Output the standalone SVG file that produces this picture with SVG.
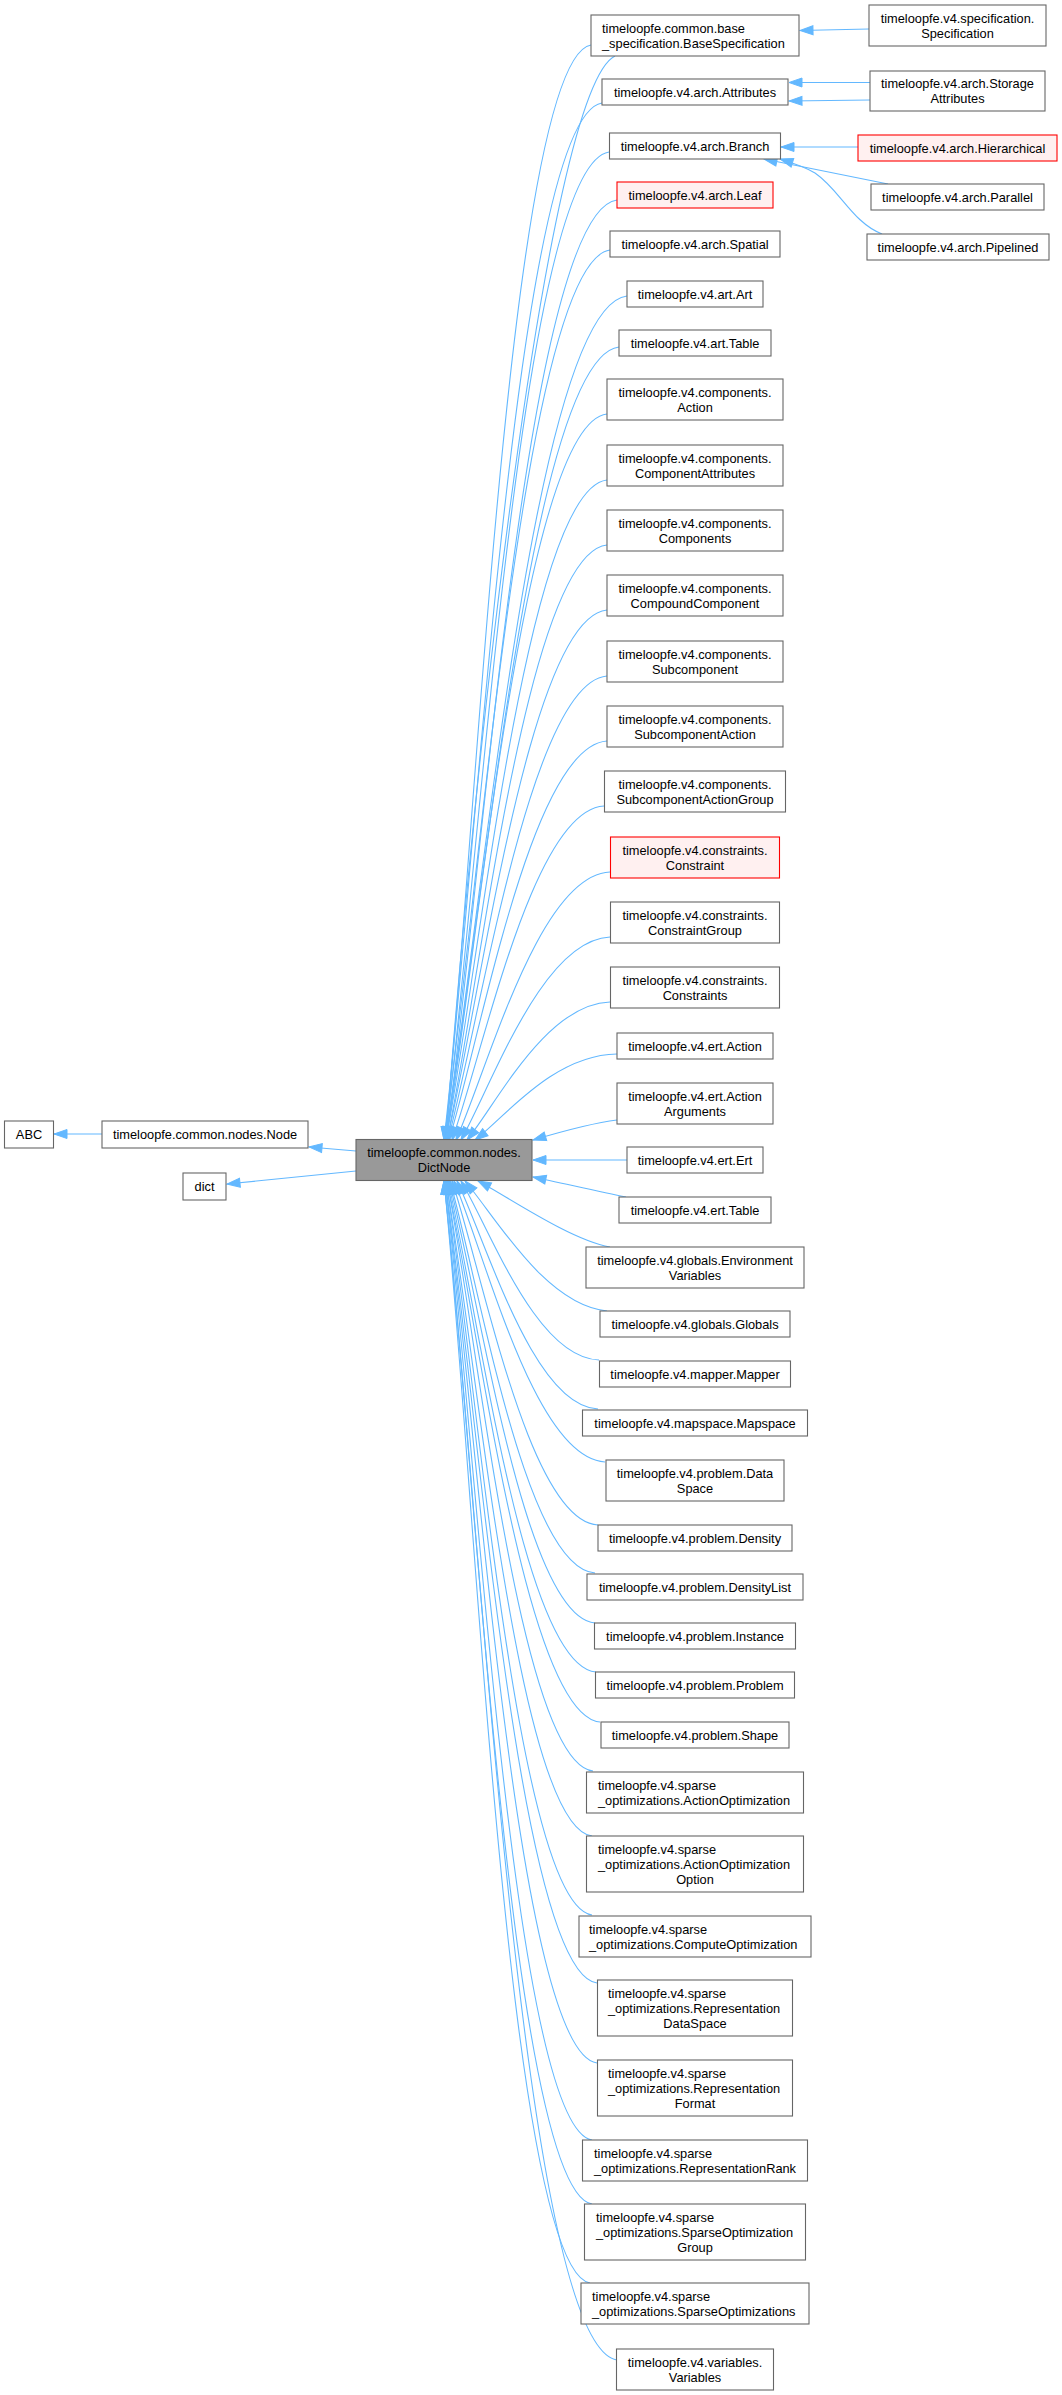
<svg xmlns="http://www.w3.org/2000/svg" width="1062" height="2395" viewBox="0 0 1062 2395">
<style>
rect{fill:#ffffff;stroke:#666666;stroke-width:1.1}
.r rect{fill:#fff0f0;stroke:#ff0000}
.d rect{fill:#999999;stroke:#666666}
text{font-family:"Liberation Sans",Arial,Helvetica,sans-serif;font-size:12.8px;fill:#000000;text-anchor:middle}
text.l{text-anchor:start}
#edges path{fill:none;stroke:#63b8ff;stroke-width:1.1;marker-end:url(#ah)}
</style>
<defs>
<marker id="ah" markerUnits="userSpaceOnUse" markerWidth="16" markerHeight="12" refX="13" refY="4.5" orient="auto" overflow="visible">
<path d="M0,0 L13,4.5 L0,9 z" fill="#63b8ff" stroke="#63b8ff" stroke-width="1"/>
</marker>
</defs>
<rect x="0" y="0" width="1062" height="2395" style="fill:#ffffff;stroke:none"/>
<g id="edges">
<path d="M102,1134 L54,1134"/>
<path d="M356,1151 L309,1147"/>
<path d="M356,1171 L227,1184"/>
<path d="M869,29 L800,30.5"/>
<path d="M870,82.5 L789,82.5"/>
<path d="M870,100 L789,101"/>
<path d="M858,147 L781,147"/>
<path d="M888,184 L764,159"/>
<path d="M882,234 C852,222 840,190 815,173 C805,167 793,163 780,159"/>
<path d="M591,45 C509,59 476,844 445,1140"/>
<path d="M615,56 C545,90 470,800 446,1140"/>
<path d="M602,103 C516,116 477,860 444,1140"/>
<path d="M609,152 C521,165 479,873 445,1140"/>
<path d="M617,200 C526,212 482,886 446,1140"/>
<path d="M610,250 C524,262 479,900 444,1140"/>
<path d="M627,296 C534,307 483,912 445,1140"/>
<path d="M619,347 C531,357 482,926 446,1140"/>
<path d="M607,414 C524,423 479,944 445,1140"/>
<path d="M607,480 C527,489 480,962 446,1140"/>
<path d="M607,545 C527,553 481,979 447,1140"/>
<path d="M607,610 C529,617 481,997 447,1140"/>
<path d="M607,676 C531,682 481,1015 448,1140"/>
<path d="M607,741 C532,746 482,1032 449,1140"/>
<path d="M604,806 C533,810 484,1050 452,1140"/>
<path d="M610,872 C539,875 488,1068 456,1140"/>
<path d="M610,937 C542,940 492,1085 461,1140"/>
<path d="M610,1002 C546,1004 497,1103 467,1140"/>
<path d="M617,1054 C553,1055 505,1117 475,1140"/>
<path d="M617,1120 C592,1123 560,1132 533,1140"/>
<path d="M627,1160 L533,1160"/>
<path d="M626,1197 C600,1192 562,1183 533,1177"/>
<path d="M610,1247 C570,1240 505,1195 478,1181"/>
<path d="M607,1311 C545,1305 495,1216 465,1181"/>
<path d="M599,1360 C536,1358 490,1229 461,1181"/>
<path d="M598,1409 C533,1406 487,1243 457,1181"/>
<path d="M605,1462 C535,1458 486,1257 454,1181"/>
<path d="M598,1525 C529,1521 483,1274 452,1181"/>
<path d="M595,1573 C525,1568 480,1287 450,1181"/>
<path d="M595,1623 C524,1617 480,1300 449,1181"/>
<path d="M596,1672 C523,1666 479,1314 448,1181"/>
<path d="M600,1722 C525,1715 479,1327 447,1181"/>
<path d="M593,1771 C520,1763 478,1340 447,1181"/>
<path d="M592,1836 C518,1827 477,1358 446,1181"/>
<path d="M592,1915 C517,1905 477,1379 446,1181"/>
<path d="M597,1983 C518,1973 477,1398 445,1181"/>
<path d="M597,2063 C516,2052 477,1419 445,1181"/>
<path d="M592,2140 C513,2128 476,1440 445,1181"/>
<path d="M592,2204 C511,2191 475,1457 444,1181"/>
<path d="M590,2283 C508,2269 475,1479 444,1181"/>
<path d="M617,2360 C520,2345 480,1500 444,1181"/>
</g>
<g id="n-abc"><rect x="4.5" y="1121" width="49" height="27"/><text x="29" y="1139">ABC</text></g>
<g id="n-node"><rect x="102" y="1121" width="206" height="27"/><text x="205" y="1139">timeloopfe.common.nodes.Node</text></g>
<g id="n-dict"><rect x="183" y="1173" width="43" height="27"/><text x="204.5" y="1191">dict</text></g>
<g id="n-dictnode" class="d"><rect x="356" y="1139.5" width="176" height="41"/><text x="444" y="1157">timeloopfe.common.nodes.</text><text x="444" y="1172">DictNode</text></g>
<g id="n-spec"><rect x="869" y="5" width="177" height="41"/><text x="957.5" y="22.5">timeloopfe.v4.specification.</text><text x="957.5" y="37.5">Specification</text></g>
<g id="n-storage"><rect x="870" y="71" width="175" height="40"/><text x="957.5" y="88">timeloopfe.v4.arch.Storage</text><text x="957.5" y="103">Attributes</text></g>
<g id="n-hier" class="r"><rect x="858" y="135" width="199" height="26"/><text x="957.5" y="152.5">timeloopfe.v4.arch.Hierarchical</text></g>
<g id="n-parallel"><rect x="871" y="184" width="173" height="26"/><text x="957.5" y="201.5">timeloopfe.v4.arch.Parallel</text></g>
<g id="n-pipelined"><rect x="867" y="234" width="182" height="26"/><text x="958" y="251.5">timeloopfe.v4.arch.Pipelined</text></g>
<g id="n-basespec"><rect x="591" y="15" width="208" height="41"/><text class="l" x="602" y="32.5">timeloopfe.common.base</text><text class="l" x="602" y="47.5">_specification.BaseSpecification</text></g>
<g id="n-attributes"><rect x="602" y="79" width="186" height="26"/><text x="695" y="96.5">timeloopfe.v4.arch.Attributes</text></g>
<g id="n-branch"><rect x="609.5" y="133" width="171" height="26"/><text x="695" y="150.5">timeloopfe.v4.arch.Branch</text></g>
<g id="n-leaf" class="r"><rect x="617" y="182" width="156" height="26"/><text x="695" y="199.5">timeloopfe.v4.arch.Leaf</text></g>
<g id="n-spatial"><rect x="610" y="231" width="170" height="26"/><text x="695" y="248.5">timeloopfe.v4.arch.Spatial</text></g>
<g id="n-art"><rect x="627" y="281" width="136" height="26"/><text x="695" y="298.5">timeloopfe.v4.art.Art</text></g>
<g id="n-arttable"><rect x="619" y="330" width="152" height="26"/><text x="695" y="347.5">timeloopfe.v4.art.Table</text></g>
<g id="n-action"><rect x="607" y="379" width="176" height="41"/><text x="695" y="396.5">timeloopfe.v4.components.</text><text x="695" y="411.5">Action</text></g>
<g id="n-compattr"><rect x="607" y="445" width="176" height="41"/><text x="695" y="462.5">timeloopfe.v4.components.</text><text x="695" y="477.5">ComponentAttributes</text></g>
<g id="n-components"><rect x="607" y="510" width="176" height="41"/><text x="695" y="527.5">timeloopfe.v4.components.</text><text x="695" y="542.5">Components</text></g>
<g id="n-compound"><rect x="607" y="575" width="176" height="41"/><text x="695" y="592.5">timeloopfe.v4.components.</text><text x="695" y="607.5">CompoundComponent</text></g>
<g id="n-subcomp"><rect x="607" y="641" width="176" height="41"/><text x="695" y="658.5">timeloopfe.v4.components.</text><text x="695" y="673.5">Subcomponent</text></g>
<g id="n-subcompaction"><rect x="607" y="706" width="176" height="41"/><text x="695" y="723.5">timeloopfe.v4.components.</text><text x="695" y="738.5">SubcomponentAction</text></g>
<g id="n-subcompactiongroup"><rect x="604.5" y="771" width="181" height="41"/><text x="695" y="788.5">timeloopfe.v4.components.</text><text x="695" y="803.5">SubcomponentActionGroup</text></g>
<g id="n-constraint" class="r"><rect x="610.5" y="837" width="169" height="41"/><text x="695" y="854.5">timeloopfe.v4.constraints.</text><text x="695" y="869.5">Constraint</text></g>
<g id="n-constraintgroup"><rect x="610.5" y="902" width="169" height="41"/><text x="695" y="919.5">timeloopfe.v4.constraints.</text><text x="695" y="934.5">ConstraintGroup</text></g>
<g id="n-constraints"><rect x="610.5" y="967" width="169" height="41"/><text x="695" y="984.5">timeloopfe.v4.constraints.</text><text x="695" y="999.5">Constraints</text></g>
<g id="n-ertaction"><rect x="617" y="1033" width="156" height="26"/><text x="695" y="1050.5">timeloopfe.v4.ert.Action</text></g>
<g id="n-ertactionargs"><rect x="617" y="1083" width="156" height="41"/><text x="695" y="1100.5">timeloopfe.v4.ert.Action</text><text x="695" y="1115.5">Arguments</text></g>
<g id="n-ertert"><rect x="627" y="1147" width="136" height="26"/><text x="695" y="1164.5">timeloopfe.v4.ert.Ert</text></g>
<g id="n-erttable"><rect x="619" y="1197" width="152" height="26"/><text x="695" y="1214.5">timeloopfe.v4.ert.Table</text></g>
<g id="n-envvars"><rect x="586" y="1247" width="218" height="41"/><text x="695" y="1264.5">timeloopfe.v4.globals.Environment</text><text x="695" y="1279.5">Variables</text></g>
<g id="n-globals"><rect x="600" y="1311" width="190" height="26"/><text x="695" y="1328.5">timeloopfe.v4.globals.Globals</text></g>
<g id="n-mapper"><rect x="599.5" y="1361" width="191" height="26"/><text x="695" y="1378.5">timeloopfe.v4.mapper.Mapper</text></g>
<g id="n-mapspace"><rect x="582.5" y="1410" width="225" height="26"/><text x="695" y="1427.5">timeloopfe.v4.mapspace.Mapspace</text></g>
<g id="n-dataspace"><rect x="606" y="1460" width="178" height="41"/><text x="695" y="1477.5">timeloopfe.v4.problem.Data</text><text x="695" y="1492.5">Space</text></g>
<g id="n-density"><rect x="598" y="1525" width="194" height="26"/><text x="695" y="1542.5">timeloopfe.v4.problem.Density</text></g>
<g id="n-densitylist"><rect x="587" y="1574" width="216" height="26"/><text x="695" y="1591.5">timeloopfe.v4.problem.DensityList</text></g>
<g id="n-instance"><rect x="594.5" y="1623" width="201" height="26"/><text x="695" y="1640.5">timeloopfe.v4.problem.Instance</text></g>
<g id="n-problem"><rect x="595.5" y="1672" width="199" height="26"/><text x="695" y="1689.5">timeloopfe.v4.problem.Problem</text></g>
<g id="n-shape"><rect x="601" y="1722" width="188" height="26"/><text x="695" y="1739.5">timeloopfe.v4.problem.Shape</text></g>
<g id="n-actionopt"><rect x="586.5" y="1772" width="217" height="41"/><text class="l" x="598" y="1789.5">timeloopfe.v4.sparse</text><text class="l" x="598" y="1804.5">_optimizations.ActionOptimization</text></g>
<g id="n-actionoptoption"><rect x="586.5" y="1836" width="217" height="56"/><text class="l" x="598" y="1853.5">timeloopfe.v4.sparse</text><text class="l" x="598" y="1868.5">_optimizations.ActionOptimization</text><text x="695" y="1883.5">Option</text></g>
<g id="n-computeopt"><rect x="579" y="1916" width="232" height="41"/><text class="l" x="589" y="1933.5">timeloopfe.v4.sparse</text><text class="l" x="589" y="1948.5">_optimizations.ComputeOptimization</text></g>
<g id="n-repdataspace"><rect x="597.5" y="1980" width="195" height="56"/><text class="l" x="608" y="1997.5">timeloopfe.v4.sparse</text><text class="l" x="608" y="2012.5">_optimizations.Representation</text><text x="695" y="2027.5">DataSpace</text></g>
<g id="n-repformat"><rect x="597.5" y="2060" width="195" height="56"/><text class="l" x="608" y="2077.5">timeloopfe.v4.sparse</text><text class="l" x="608" y="2092.5">_optimizations.Representation</text><text x="695" y="2107.5">Format</text></g>
<g id="n-reprank"><rect x="582.5" y="2140" width="225" height="41"/><text class="l" x="594" y="2157.5">timeloopfe.v4.sparse</text><text class="l" x="594" y="2172.5">_optimizations.RepresentationRank</text></g>
<g id="n-sparseoptgroup"><rect x="584.5" y="2204" width="221" height="56"/><text class="l" x="596" y="2221.5">timeloopfe.v4.sparse</text><text class="l" x="596" y="2236.5">_optimizations.SparseOptimization</text><text x="695" y="2251.5">Group</text></g>
<g id="n-sparseopts"><rect x="581" y="2283" width="228" height="41"/><text class="l" x="592" y="2300.5">timeloopfe.v4.sparse</text><text class="l" x="592" y="2315.5">_optimizations.SparseOptimizations</text></g>
<g id="n-variables"><rect x="616.5" y="2349" width="157" height="41"/><text x="695" y="2366.5">timeloopfe.v4.variables.</text><text x="695" y="2381.5">Variables</text></g>
</svg>
